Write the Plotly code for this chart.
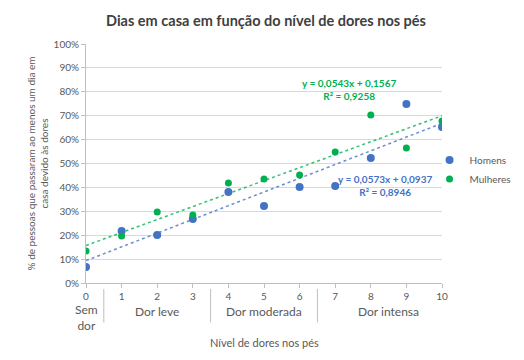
import numpy as np
import plotly.graph_objects as go

niveis = list(range(11))
homens = [0.067, 0.218, 0.201, 0.268, 0.381, 0.322, 0.402, 0.406, 0.523, 0.749, 0.653]
mulheres = [0.134, 0.197, 0.297, 0.285, 0.418, 0.435, 0.452, 0.548, 0.703, 0.565, 0.678]
categorias = ["Sem<br>dor", "Dor leve", "Dor moderada", "Dor intensa"]
cat_centros = [0, 2, 5, 8.5]
separadores = [0.5, 3.5, 6.5]
eq_homens = "y = 0,0573x + 0,0937<br>R² = 0,8946"
eq_mulheres = "y = 0,0543x + 0,1567<br>R² = 0,9258"

azul = "#4472C4"
verde = "#00B050"
cinza = "#595959"
font_fam = "Lato, Open Sans, Liberation Sans, Arial"

fig = go.Figure()
xs = np.array(niveis, dtype=float)
for vals, cor_t in [(homens, "rgba(68,114,196,0.8)"), (mulheres, "rgba(0,176,80,0.8)")]:
    m, b = np.polyfit(xs, np.array(vals), 1)
    fig.add_trace(go.Scatter(x=[0, 10], y=[b, b + 10 * m], mode="lines",
                             line=dict(color=cor_t, width=1.5, dash="dot"),
                             showlegend=False, hoverinfo="skip"))

fig.add_trace(go.Scatter(x=niveis, y=homens, mode="markers", name="Homens",
                         marker=dict(color=azul, size=8)))
fig.add_trace(go.Scatter(x=niveis, y=mulheres, mode="markers", name="Mulheres",
                         marker=dict(color=verde, size=7)))

# page has an 8px body margin: figure is drawn at (8, 8)
fig.update_layout(
    width=516, height=352,
    margin=dict(l=78, r=82, t=36, b=77, autoexpand=False),
    paper_bgcolor="white", plot_bgcolor="white",
    font=dict(family=font_fam, color=cinza, size=10),
    title=dict(text="<b>Dias em casa em função do nível de dores nos pés</b>",
               x=0.5, xanchor="center", y=0.963, yanchor="middle",
               font=dict(size=14.5, color="#404040")),
    legend=dict(x=0.965, y=0.575, xanchor="left", yanchor="top",
                font=dict(size=10, color=cinza), itemwidth=30,
                tracegroupgap=4, bgcolor="rgba(0,0,0,0)"),
    showlegend=True,
)

fig.update_xaxes(range=[0, 10], tickmode="array", tickvals=niveis,
                 ticktext=[str(n) for n in niveis],
                 showgrid=False, zeroline=False, showline=True,
                 linecolor="#BFBFBF", linewidth=1, ticks="outside",
                 ticklen=4, tickcolor="#BFBFBF", automargin=False,
                 tickfont=dict(size=10, color=cinza))
fig.update_yaxes(range=[0, 1.0], tickmode="array",
                 tickvals=[i / 10 for i in range(11)],
                 ticktext=[f"{i*10}%" for i in range(11)],
                 showgrid=True, gridcolor="#D9D9D9", gridwidth=1,
                 zeroline=False, showline=True, linecolor="#BFBFBF",
                 ticks="outside", ticklen=4, tickcolor="#BFBFBF",
                 automargin=False,
                 tickfont=dict(size=10, color=cinza))

fig.add_annotation(x=-0.135, y=0.5, xref="paper", yref="paper", textangle=-90,
                   text="% de pessoas que passaram ao menos um dia em<br>casa devido às dores",
                   showarrow=False, font=dict(size=10, color=cinza),
                   xanchor="center", yanchor="middle")

for c, x in zip(categorias, cat_centros):
    fig.add_annotation(x=x, y=-0.12 if "<br>" not in c else -0.145, xref="x", yref="paper",
                       text=c, showarrow=False, font=dict(size=12, color=cinza),
                       yanchor="middle")
for s in separadores:
    fig.add_shape(type="line", x0=s, x1=s, y0=-0.025, y1=-0.165, xref="x", yref="paper",
                  line=dict(color="#BFBFBF", width=1))

fig.add_annotation(x=0.5, y=-0.248, xref="paper", yref="paper",
                   text="Nível de dores nos pés", showarrow=False,
                   font=dict(size=11, color=cinza), yanchor="middle")

fig.add_annotation(x=7.39, y=0.87, xref="x", yref="paper", text="<b>" + eq_mulheres + "</b>",
                   showarrow=False, font=dict(size=10, color=verde), align="center")
fig.add_annotation(x=8.4, y=0.41, xref="x", yref="paper", text="<b>" + eq_homens + "</b>",
                   showarrow=False, font=dict(size=10, color=azul), align="center")

fig.write_html("out.html")
